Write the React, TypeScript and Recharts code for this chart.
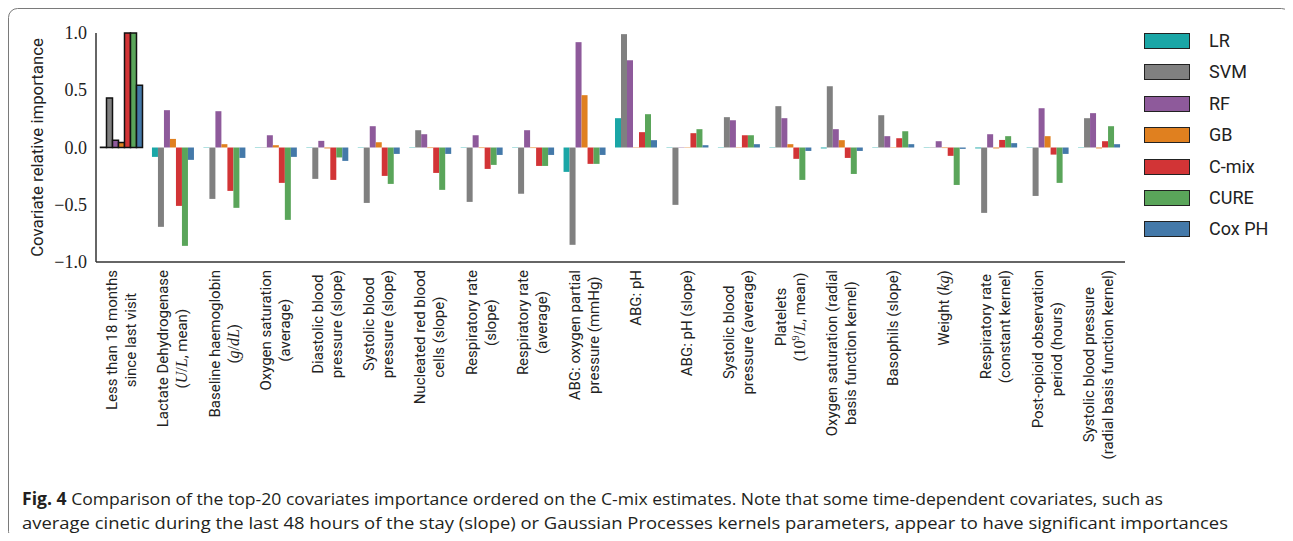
import React from 'react';
import { BarChart, Bar, XAxis, YAxis, Cell } from 'recharts';

// covariates, ordered on the C-mix estimates ($..$ = math italics)
const categoryLabels: string[][] = [
  ['Less than 18 months', 'since last visit'],
  ['Lactate Dehydrogenase', '($U/L$, mean)'],
  ['Baseline haemoglobin', '($g/dL$)'],
  ['Oxygen saturation', '(average)'],
  ['Diastolic blood', 'pressure (slope)'],
  ['Systolic blood', 'pressure (slope)'],
  ['Nucleated red blood', 'cells (slope)'],
  ['Respiratory rate', '(slope)'],
  ['Respiratory rate', '(average)'],
  ['ABG: oxygen partial', 'pressure (mmHg)'],
  ['ABG: pH'],
  ['ABG: pH (slope)'],
  ['Systolic blood', 'pressure (average)'],
  ['Platelets', '($10^9/L$, mean)'],
  ['Oxygen saturation (radial', 'basis function kernel)'],
  ['Basophils (slope)'],
  ['Weight ($kg$)'],
  ['Respiratory rate', '(constant kernel)'],
  ['Post-opioid observation', 'period (hours)'],
  ['Systolic blood pressure', '(radial basis function kernel)'],
];

const lrValues = [0.002, -0.082, 0.003, 0.003, 0.003, 0.003, 0.003, 0.003, 0.003, -0.213, 0.256, 0.003, 0.003, 0.003, -0.008, 0.003, 0.003, -0.008, 0.003, 0.003];
const svmValues = [0.433, -0.693, -0.449, 0.003, -0.274, -0.484, 0.151, -0.475, -0.405, -0.85, 0.99, -0.501, 0.265, 0.361, 0.535, 0.282, 0.003, -0.571, -0.423, 0.256];
const rfValues = [0.064, 0.326, 0.317, 0.107, 0.058, 0.186, 0.116, 0.107, 0.151, 0.92, 0.762, 0.003, 0.238, 0.256, 0.16, 0.099, 0.055, 0.116, 0.343, 0.3];
const gbValues = [0.044, 0.075, 0.029, 0.02, -0.008, 0.046, -0.005, -0.005, -0.005, 0.457, 0.003, 0.003, 0.003, 0.029, 0.064, 0.003, -0.005, -0.008, 0.099, -0.008];
const cmixValues = [1.0, -0.51, -0.379, -0.309, -0.283, -0.248, -0.222, -0.187, -0.161, -0.143, 0.134, 0.125, 0.107, -0.099, -0.091, 0.081, -0.073, 0.066, -0.062, 0.055];
const cureValues = [1.0, -0.859, -0.527, -0.632, -0.087, -0.318, -0.37, -0.152, -0.161, -0.143, 0.291, 0.16, 0.107, -0.283, -0.231, 0.142, -0.327, 0.099, -0.309, 0.186];
const coxValues = [0.544, -0.108, -0.091, -0.082, -0.117, -0.056, -0.056, -0.065, -0.065, -0.065, 0.064, 0.02, 0.029, -0.03, -0.03, 0.029, -0.012, 0.038, -0.056, 0.029];

const seriesNames = ['LR', 'SVM', 'RF', 'GB', 'C-mix', 'CURE', 'Cox PH'];
const seriesColors = ['#1aa6a6', '#808080', '#8e5a9b', '#e0801f', '#d23436', '#5aa55a', '#4479a9'];
const seriesValues = [lrValues, svmValues, rfValues, gbValues, cmixValues, cureValues, coxValues];

const yTicks = [-1, -0.5, 0, 0.5, 1];

const captionLine1 = 'Comparison of the top-20 covariates importance ordered on the C-mix estimates. Note that some time-dependent covariates, such as';
const captionLine2 = 'average cinetic during the last 48 hours of the stay (slope) or Gaussian Processes kernels parameters, appear to have significant importances';

const chartData = categoryLabels.map((lines, i) => {
  const row: Record<string, any> = { name: lines.join(' ') };
  seriesValues.forEach((vals, k) => {
    row['s' + k] = vals[i];
  });
  return row;
});

const SANS = 'Roboto, "Noto Sans", sans-serif';
const SERIF = '"Liberation Serif", "DejaVu Serif", serif';
const TEXT = '#222';

let measureCtx: CanvasRenderingContext2D | null = null;
function measure(s: string) {
  if (!measureCtx) measureCtx = document.createElement('canvas').getContext('2d');
  if (!measureCtx) return s.length * 7.5;
  measureCtx.font = '15px Roboto';
  return measureCtx.measureText(s.replace(/\$/g, '').replace('^', '')).width;
}

function renderMath(expr: string, key: number) {
  const out: React.ReactNode[] = [];
  let back = false;
  for (let j = 0; j < expr.length; j++) {
    const ch = expr[j];
    if (ch === '^') {
      out.push(<tspan key={j} dy={-6} fontSize={10} fontFamily={SERIF}>{expr[j + 1]}</tspan>);
      j++;
      back = true;
      continue;
    }
    const italic = /[A-Za-z]/.test(ch);
    out.push(
      <tspan key={j} dy={back ? 6 : undefined} fontFamily={SERIF} fontStyle={italic ? 'italic' : 'normal'} fontSize={16}>
        {ch}
      </tspan>
    );
    back = false;
  }
  return <React.Fragment key={key}>{out}</React.Fragment>;
}

function renderLine(line: string) {
  return line.split('$').map((p, i) => (i % 2 === 0 ? <tspan key={i}>{p}</tspan> : renderMath(p, i)));
}

const CategoryTick = (props: any) => {
  const { x, y, payload } = props;
  const lines = categoryLabels[payload.index] || [];
  const maxLen = Math.max(...lines.map(measure));
  const cy = y + maxLen / 2;
  const n = lines.length;
  return (
    <g>
      {lines.map((line, i) => {
        const bx = x + 4.5 + (i - (n - 1) / 2) * 19;
        return (
          <text key={i} transform={`translate(${bx},${cy}) rotate(-90)`} textAnchor="middle" fontFamily={SANS} fontSize={15} fill={TEXT}>
            {renderLine(line)}
          </text>
        );
      })}
    </g>
  );
};

const formatTick = (v: number) => (v < 0 ? '\u2212' : '') + Math.abs(v).toFixed(1);

const ValueTick = (props: any) => {
  const { x, y, payload } = props;
  return (
    <text x={x} y={y} dy={6} textAnchor="end" fontFamily={SERIF} fontSize={18} fill={TEXT}>
      {formatTick(payload.value)}
    </text>
  );
};

export default function App() {
  return (
    <div style={{ position: 'relative', width: 1277, height: 525 }}>
      <style>{'body{overflow:hidden}'}</style>
      <BarChart
        width={1277}
        height={484}
        data={chartData}
        margin={{ top: 25, right: 160, bottom: 0, left: 0 }}
        barCategoryGap={4.5}
        barGap={0}
      >
        <XAxis
          dataKey="name"
          interval={0}
          tickLine={false}
          axisLine={{ stroke: '#333', strokeWidth: 1.5 }}
          tick={<CategoryTick />}
          height={230}
        />
        <YAxis
          domain={[-1, 1]}
          ticks={yTicks}
          tickLine={false}
          tickMargin={3}
          axisLine={{ stroke: '#333', strokeWidth: 1.5 }}
          tick={<ValueTick />}
          width={88}
          label={{
            value: 'Covariate relative importance',
            angle: -90,
            position: 'insideLeft',
            offset: 29,
            style: { textAnchor: 'middle', fontFamily: SANS, fontSize: 16.8, fill: TEXT },
          }}
        />
        {seriesNames.map((name, k) => (
          <Bar key={name} dataKey={'s' + k} name={name} fill={seriesColors[k]} isAnimationActive={false}>
            {chartData.map((_, i) => (
              <Cell key={i} stroke={i === 0 ? '#111' : 'none'} strokeWidth={i === 0 ? 1.5 : 0} />
            ))}
          </Bar>
        ))}
      </BarChart>

      {/* legend */}
      <div style={{ position: 'absolute', left: 1136, top: 25 }}>
        {seriesNames.map((name, k) => (
          <div key={name} style={{ display: 'flex', alignItems: 'center', height: 16, marginBottom: 15.4 }}>
            <div style={{ width: 44, height: 14, background: seriesColors[k], border: '1px solid #222' }} />
            <span style={{ marginLeft: 19, fontFamily: SANS, fontSize: 18, color: TEXT, lineHeight: '16px' }}>{name}</span>
          </div>
        ))}
      </div>

      {/* frame and caption */}
      <svg
        width={1284}
        height={534}
        style={{ position: 'absolute', left: 0, top: 0, pointerEvents: 'none' }}
      >
        <rect x={0.5} y={0.5} width={1282} height={532} rx={9} fill="none" stroke="#7a7a7a" strokeWidth={1} />
        <text
          x={14}
          y={497}
          fontFamily='"Liberation Sans Narrow", "Open Sans", sans-serif'
          fontSize={17}
          fill="#231f20"
          textLength={1141}
          lengthAdjust="spacingAndGlyphs"
        >
          <tspan fontWeight="bold">Fig. 4</tspan> {captionLine1}
        </text>
        <text
          x={14}
          y={521}
          fontFamily='"Liberation Sans Narrow", "Open Sans", sans-serif'
          fontSize={17}
          fill="#231f20"
          textLength={1206}
          lengthAdjust="spacingAndGlyphs"
        >
          {captionLine2}
        </text>
      </svg>
    </div>
  );
}
